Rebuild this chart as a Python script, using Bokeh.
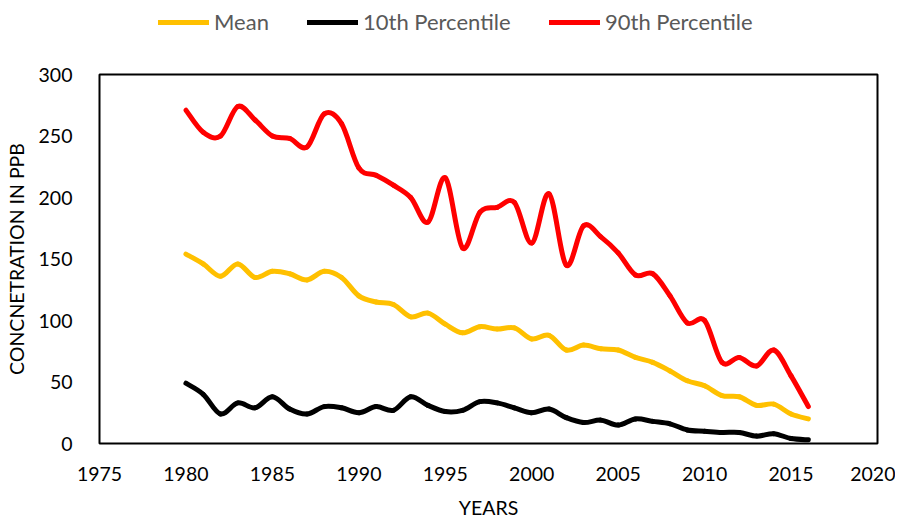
import numpy as np
from bokeh.plotting import figure
from bokeh.layouts import column
from bokeh.models import FixedTicker, Legend, LegendItem, ColumnDataSource, Range1d
from bokeh.embed import file_html
from bokeh.resources import INLINE

years = list(range(1980, 2017))
mean = [154, 146, 136, 146, 135, 140, 138, 133, 140, 135, 120, 115, 113, 103, 106, 97, 90, 95,
        93, 94, 85, 88, 76, 80, 77, 76, 70, 66, 59, 51, 47, 39, 38, 31, 32, 24, 20]
p10 = [49, 40, 24, 33, 29, 38, 28, 24, 30, 29, 25, 30, 27, 38, 31, 26, 27, 34,
       33, 29, 25, 28, 21, 17, 19, 15, 20, 18, 16, 11, 10, 9, 9, 6, 8, 4, 3]
p90 = [271, 253, 250, 274, 263, 250, 248, 241, 268, 260, 224, 218, 210, 200, 180, 216, 159, 188,
       192, 196, 163, 203, 145, 177, 168, 155, 137, 138, 120, 98, 100, 66, 70, 63, 76, 55, 30]

series = [("Mean", mean, "#FFC000"), ("10th Percentile", p10, "#000000"), ("90th Percentile", p90, "#FF0000")]
x_ticks = list(range(1975, 2021, 5))
y_ticks = list(range(0, 301, 50))

FONT = "Lato"
W = 895
BL, BR = 99, 18

# ---- legend strip (its frame is aligned with the chart's frame) ----
leg = figure(width=W, height=40, x_range=Range1d(0, 1), y_range=Range1d(-2, -1),
             x_axis_type=None, y_axis_type=None, output_backend="svg", toolbar_location=None,
             min_border_left=BL, min_border_right=BR, min_border_top=0, min_border_bottom=0)
leg.outline_line_color = None
leg.xgrid.visible = False
leg.ygrid.visible = False
leg.background_fill_alpha = 0
leg_x = [59, 208, 450]
for (name, vals, color), lx in zip(series, leg_x):
    # the series itself, drawn outside this strip's visible range; only its legend swatch shows
    r = leg.line(x=years, y=vals, line_color=color, line_width=5, line_cap="round")
    lg = Legend(items=[LegendItem(label=name, renderers=[r])], location=(lx, 5),
                orientation="horizontal", border_line_alpha=0, background_fill_alpha=0,
                label_text_font=FONT, label_text_font_size="22px", label_text_color="#595959",
                glyph_width=51, glyph_height=26, label_standoff=5, padding=0, margin=0)
    leg.add_layout(lg, "center")

# ---- main chart ----
p = figure(width=W, height=481, x_range=(1975, 2020), y_range=(0, 300),
           output_backend="svg", toolbar_location=None,
           min_border_left=BL, min_border_right=BR, min_border_top=34, min_border_bottom=78)
p.xgrid.visible = False
p.ygrid.visible = False
p.outline_line_color = "black"
p.outline_line_width = 2
p.background_fill_color = "white"
p.border_fill_color = "white"

def bezier_source(xs, ys):
    x = np.asarray(xs, float)
    y = np.asarray(ys, float)
    n = len(x)
    xp = np.concatenate([[x[0]], x, [x[-1]]])
    yp = np.concatenate([[y[0]], y, [y[-1]]])
    x0 = x[:-1]; y0 = y[:-1]; x1 = x[1:]; y1 = y[1:]
    t = 1.0 / 6.0
    cx0 = x0 + (xp[2:n + 1] - xp[0:n - 1]) * t
    cy0 = y0 + (yp[2:n + 1] - yp[0:n - 1]) * t
    cx1 = x1 - (xp[3:n + 2] - xp[1:n]) * t
    cy1 = y1 - (yp[3:n + 2] - yp[1:n]) * t
    return ColumnDataSource(dict(x0=x0, y0=y0, x1=x1, y1=y1, cx0=cx0, cy0=cy0, cx1=cx1, cy1=cy1))

for name, vals, color in series:
    src = bezier_source(years, vals)
    p.bezier(x0="x0", y0="y0", x1="x1", y1="y1", cx0="cx0", cy0="cy0", cx1="cx1", cy1="cy1",
             source=src, line_color=color, line_width=5, line_cap="round")

p.xaxis.ticker = FixedTicker(ticks=x_ticks)
p.yaxis.ticker = FixedTicker(ticks=y_ticks)
for ax in (p.xaxis[0], p.yaxis[0]):
    ax.axis_line_color = None
    ax.major_tick_line_color = None
    ax.minor_tick_line_color = None
    ax.major_label_text_font = FONT
    ax.major_label_text_font_size = "19.5px"
    ax.major_label_text_color = "#000000"
    ax.axis_label_text_font = FONT
    ax.axis_label_text_font_size = "19.5px"
    ax.axis_label_text_font_style = "normal"
    ax.axis_label_text_color = "#000000"
p.xaxis.major_label_standoff = 17
p.yaxis.major_label_standoff = 21
p.xaxis.axis_label = "YEARS"
p.yaxis.axis_label = "CONCNETRATION IN PPB"
p.xaxis.axis_label_standoff = 12
p.yaxis.axis_label_standoff = 8

layout = column(leg, p, spacing=0)
open("out.html", "w").write(file_html(layout, INLINE))
